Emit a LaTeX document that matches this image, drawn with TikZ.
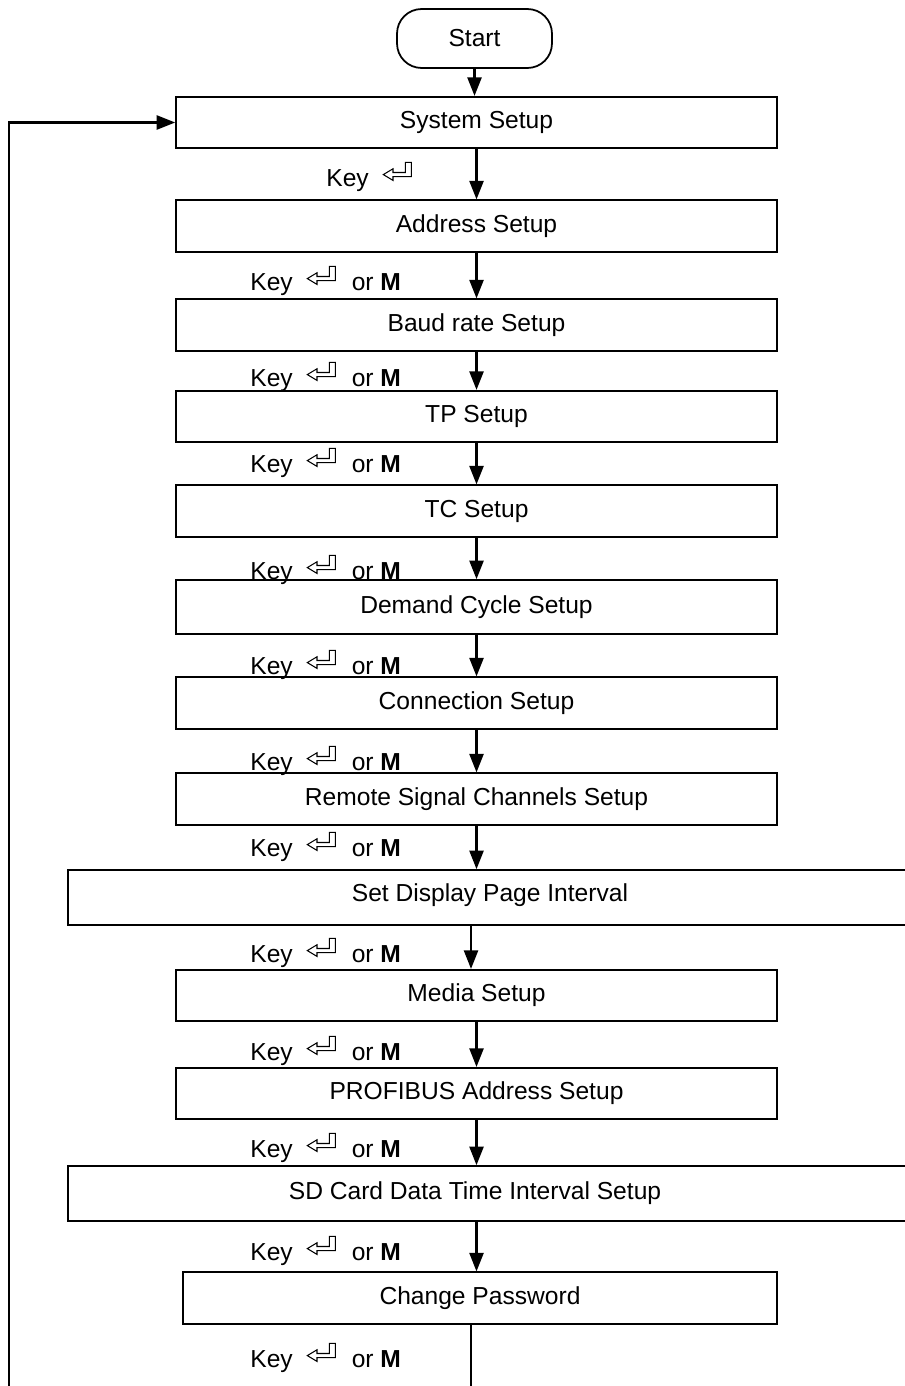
\documentclass[tikz,border=0pt]{standalone}
\usepackage{fontspec}
\setmainfont{Liberation Sans}
\usepackage{tikz}
\usetikzlibrary{positioning,arrows.meta,calc}

\newcommand{\retkey}{\tikz[baseline=0pt, x=1pt, y=1pt, line width=0.6pt]
  \draw (0,6.5) -- (5.5,9.8) -- (5.5,7.7) -- (12.5,7.7) -- (12.5,13.5) -- (16,13.5) -- (16,5.3) -- (5.5,5.3) -- (5.5,3.2) -- cycle;}

\begin{document}
\begin{tikzpicture}[
    x=0.02cm, y=-0.02cm,
    every node/.style={font=\fontsize{14}{16}\selectfont},
    box/.style={draw, line width=1pt, align=center, minimum width=12.02cm, minimum height=1.03cm},
    wide/.style={box, minimum width=17.44cm, minimum height=1.1cm},
    term/.style={draw, line width=1pt, rounded corners=14pt, minimum width=3.1cm, minimum height=1.18cm},
    keylbl/.style={anchor=base west, inner sep=0pt},
    arr/.style={-{Triangle[length=10.5pt, width=8pt]}, line width=1.2pt},
    line/.style={line width=1.2pt}
]
\useasboundingbox (0,0) rectangle (904,1386);

\node[term] (start) at (474.5,38.5) {Start};
\node[box] (sys) at (476.5,122.5) {System Setup};
\node[box] (addr) at (476.5,226) {Address Setup};
\node[box] (baud) at (476.5,325) {Baud rate Setup};
\node[box] (tp) at (476.5,416.5) {TP Setup};
\node[box] (tc) at (476.5,511) {TC Setup};
\node[box, minimum height=1.08cm] (demand) at (476.5,607) {Demand Cycle Setup};
\node[box] (conn) at (476.5,703) {Connection Setup};
\node[box] (remote) at (476.5,799) {Remote Signal Channels Setup};
\node[wide] (disp) at (504,897.5) {};
\node at (490,895) {Set Display Page Interval};
\node[box] (media) at (476.5,995.5) {Media Setup};
\node[box] (profi) at (476.5,1093.5) {PROFIBUS Address Setup};
\node[wide] (sdcard) at (504,1193.5) {};
\node at (475,1193.5) {SD Card Data Time Interval Setup};
\node[box, minimum width=11.88cm] (cp) at (480,1298) {Change Password};

\node[keylbl] (k1) at (326,186) {Key\hspace{8pt}\retkey};
\node[keylbl] (k2) at (250,290) {Key\hspace{8pt}\retkey\hspace{9pt}or \textbf{M}};
\node[keylbl] (k3) at (250,386) {Key\hspace{8pt}\retkey\hspace{9pt}or \textbf{M}};
\node[keylbl] (k4) at (250,472) {Key\hspace{8pt}\retkey\hspace{9pt}or \textbf{M}};
\node[keylbl] (k5) at (250,579) {Key\hspace{8pt}\retkey\hspace{9pt}or \textbf{M}};
\node[keylbl] (k6) at (250,674) {Key\hspace{8pt}\retkey\hspace{9pt}or \textbf{M}};
\node[keylbl] (k7) at (250,770) {Key\hspace{8pt}\retkey\hspace{9pt}or \textbf{M}};
\node[keylbl] (k8) at (250,856) {Key\hspace{8pt}\retkey\hspace{9pt}or \textbf{M}};
\node[keylbl] (k9) at (250,962) {Key\hspace{8pt}\retkey\hspace{9pt}or \textbf{M}};
\node[keylbl] (k10) at (250,1060) {Key\hspace{8pt}\retkey\hspace{9pt}or \textbf{M}};
\node[keylbl] (k11) at (250,1157) {Key\hspace{8pt}\retkey\hspace{9pt}or \textbf{M}};
\node[keylbl] (k12) at (250,1260) {Key\hspace{8pt}\retkey\hspace{9pt}or \textbf{M}};
\node[keylbl] (k13) at (250,1367) {Key\hspace{8pt}\retkey\hspace{9pt}or \textbf{M}};

\coordinate (loopend) at (9,1386);
\coordinate (cpend) at (471,1386);

\draw[arr] (start.south) -- (start.south |- sys.north);
\draw[arr] (sys) -- (addr);
\draw[arr] (addr) -- (baud);
\draw[arr] (baud) -- (tp);
\draw[arr] (tp) -- (tc);
\draw[arr] (tc) -- (demand);
\draw[arr] (demand) -- (conn);
\draw[arr] (conn) -- (remote);
\draw[arr] (remote.south) -- (remote.south |- disp.north);
\draw[arr] (disp.south -| cpend) -- (media.north -| cpend);
\draw[arr] (media) -- (profi);
\draw[arr] (profi.south) -- (profi.south |- sdcard.north);
\draw[arr] (profi.south |- sdcard.south) -- (profi.south |- cp.north);
\draw[line] (cp.south -| cpend) -- (cpend);
\draw[arr] (loopend) |- (sys.west);
\end{tikzpicture}
\end{document}
